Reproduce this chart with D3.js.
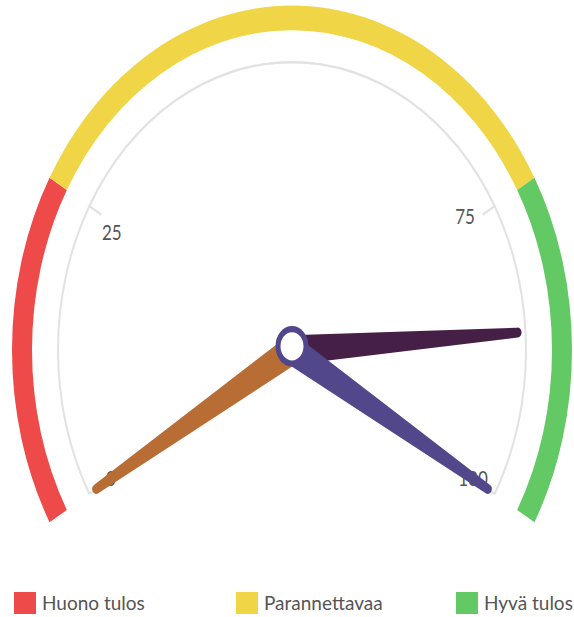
<!DOCTYPE html>
<html>
<head>
<meta charset="utf-8">
<script src="https://cdn.jsdelivr.net/npm/d3@7"></script>
<style>
  body { margin: 0; background: #fff; }
  text { font-family: "Lato", "Open Sans", sans-serif; }
</style>
</head>
<body>
<div id="chart"></div>
<script>
// gauge data
var bandNames = ["Huono tulos", "Parannettavaa", "Hyvä tulos"];
var bandFrom = [0, 25, 75];
var bandTo = [25, 75, 100];
var bandColors = ["#ee4a4a", "#f0d646", "#62c964"];

var tickValues = [0, 25, 75, 100];

var needleValues = [0, 86, 100];
var needleColors = ["#b86d35", "#461f47", "#52478a"];

var W = 574, H = 617;
var cx = 292, cy = 350, stretch = 1.23;

var svg = d3.select("#chart").append("svg")
    .attr("width", W)
    .attr("height", H);

var g = svg.append("g")
    .attr("transform", "translate(" + cx + "," + cy + ") scale(1," + stretch + ")");

var angle = d3.scaleLinear().domain([0, 100]).range([-120, 120]);
var rad = function(v) { return angle(v) * Math.PI / 180; };

// colour bands
var band = d3.arc().innerRadius(260).outerRadius(280);
g.selectAll(".band")
  .data(bandFrom)
  .enter().append("path")
    .attr("class", "band")
    .attr("d", function(d, i) { return band({startAngle: rad(d), endAngle: rad(bandTo[i])}); })
    .style("fill", function(d, i) { return bandColors[i]; });

// thin scale arc
g.append("path")
  .attr("d", d3.arc().innerRadius(233).outerRadius(235)({startAngle: rad(0), endAngle: rad(100)}))
  .style("fill", "#e2e2e2");

// ticks + labels
var ticks = g.selectAll(".tick").data(tickValues).enter().append("g")
    .attr("class", "tick");
ticks.append("line")
    .attr("x1", function(d) { return 234 * Math.sin(rad(d)); })
    .attr("y1", function(d) { return -234 * Math.cos(rad(d)); })
    .attr("x2", function(d) { return 220 * Math.sin(rad(d)); })
    .attr("y2", function(d) { return -220 * Math.cos(rad(d)); })
    .style("stroke", "#e2e2e2")
    .style("stroke-width", 2);
// end labels sit a bit further out, inner ones a touch anticlockwise
var isEnd = function(d) { return d === 0 || d === 100; };
var lab = function(d) { return (angle(d) - (isEnd(d) ? 0 : 2)) * Math.PI / 180; };
var labR = function(d) { return isEnd(d) ? 209 : 204; };
ticks.append("text")
    .attr("x", function(d) { return labR(d) * Math.sin(lab(d)); })
    .attr("y", function(d) { return -labR(d) * Math.cos(lab(d)); })
    .attr("dy", "0.35em")
    .attr("text-anchor", "middle")
    .style("font-size", "17px")
    .style("fill", "#555")
    .text(function(d) { return d; });

// needles
var L = 226;
var needlePath = "M-12,0 L-4," + (-L) + " A4,4 0 0 1 4," + (-L) + " L12,0 Z";
g.selectAll(".needle")
  .data(needleValues)
  .enter().append("path")
    .attr("class", "needle")
    .attr("d", needlePath)
    .attr("transform", function(d) { return "rotate(" + angle(d) + ")"; })
    .style("fill", function(d, i) { return needleColors[i]; });

// hub
g.append("circle")
  .attr("cy", -3)
  .attr("r", 14)
  .style("fill", "#fff")
  .style("stroke", "#52478a")
  .style("stroke-width", 5);

// legend
var legend = svg.selectAll(".legend")
  .data(bandNames)
  .enter().append("g")
    .attr("class", "legend")
    .attr("transform", function(d, i) { return "translate(" + [14, 236, 456][i] + ",592)"; });
legend.append("rect")
    .attr("width", 22)
    .attr("height", 22)
    .style("fill", function(d, i) { return bandColors[i]; });
legend.append("text")
    .attr("x", 28)
    .attr("y", 18)
    .style("font-size", "19px")
    .style("fill", "#555")
    .text(function(d) { return d; });
</script>
</body>
</html>
